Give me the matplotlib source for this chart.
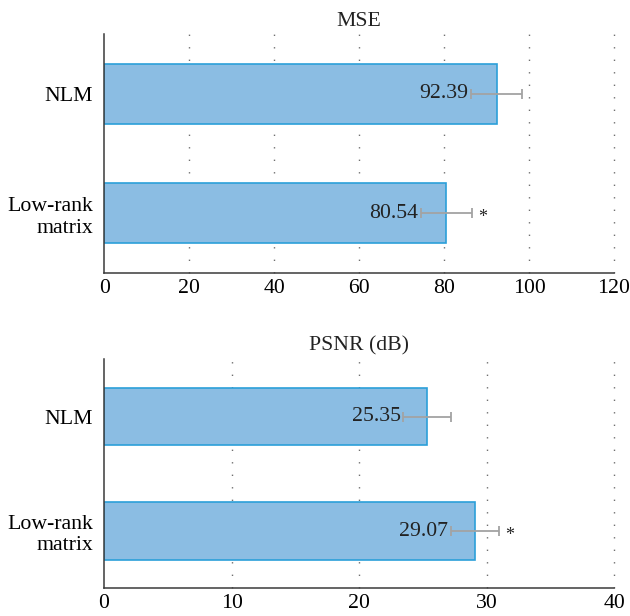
import matplotlib.pyplot as plt

categories = ["NLM", "Low-rank\nmatrix"]

mse_values = [92.39, 80.54]
mse_errors = [5.93, 5.96]
mse_marks = ["", "*"]

psnr_values = [25.35, 29.07]
psnr_errors = [1.87, 1.87]
psnr_marks = ["", "*"]

mse_ticks = [0, 20, 40, 60, 80, 100, 120]
psnr_ticks = [0, 10, 20, 30, 40]

BAR_FACE = "#8bbde3"
BAR_EDGE = "#2b9fd9"
ERR_COLOR = "#a3a3a3"
GRID_COLOR = "#707070"
SPINE_COLOR = "#3a3a3a"
FS = 15.7

plt.rcParams["font.family"] = ["Liberation Serif", "DejaVu Serif"]
plt.rcParams["text.color"] = "#222222"


def draw_panel(ax, title, values, errors, marks, ticks):
    pos = list(range(len(categories)))
    ax.barh(pos, values, height=0.5, color=BAR_FACE, edgecolor=BAR_EDGE,
            linewidth=1.2, zorder=2)
    ax.errorbar(values, pos, xerr=errors, fmt="none", ecolor=ERR_COLOR,
                elinewidth=1.3, capsize=3.6, capthick=1.3, zorder=3)

    for p, v, e, m in zip(pos, values, errors, marks):
        ax.annotate(f"{v:.2f}", (v - e, p), xytext=(-2, 0),
                    textcoords="offset points", ha="right", va="center",
                    fontsize=FS, zorder=4)
        if m:
            # significance marker just right of the upper cap
            ax.annotate(m, (v + e, p), xytext=(4.5, -3),
                        textcoords="offset points", ha="left", va="center",
                        fontsize=13, zorder=4)

    ax.set_xlim(ticks[0], ticks[-1])
    ax.set_ylim(len(categories) - 0.5, -0.5)
    ax.set_xticks(ticks)
    ax.set_yticks(pos)
    ax.set_yticklabels(categories)
    ax.tick_params(axis="both", length=0, labelsize=FS)
    ax.tick_params(axis="x", pad=4)
    ax.tick_params(axis="y", pad=8)

    for t in ticks[1:]:
        ax.axvline(t, color=GRID_COLOR, linewidth=1.0,
                   linestyle=(0, (1, 8)), zorder=1, clip_on=False)

    for side in ("top", "right"):
        ax.spines[side].set_visible(False)
    for side in ("left", "bottom"):
        ax.spines[side].set_color(SPINE_COLOR)
        ax.spines[side].set_linewidth(1.1)

    ax.set_title(title, fontsize=FS, pad=6)


fig = plt.figure(figsize=(6.3, 6.16), dpi=100)
ax_top = fig.add_axes([0.1655, 0.5568, 0.809, 0.388])
ax_bot = fig.add_axes([0.1650, 0.0450, 0.810, 0.3717])

draw_panel(ax_top, "MSE", mse_values, mse_errors, mse_marks, mse_ticks)
draw_panel(ax_bot, "PSNR (dB)", psnr_values, psnr_errors, psnr_marks, psnr_ticks)

fig.savefig("out.png", dpi=100)
